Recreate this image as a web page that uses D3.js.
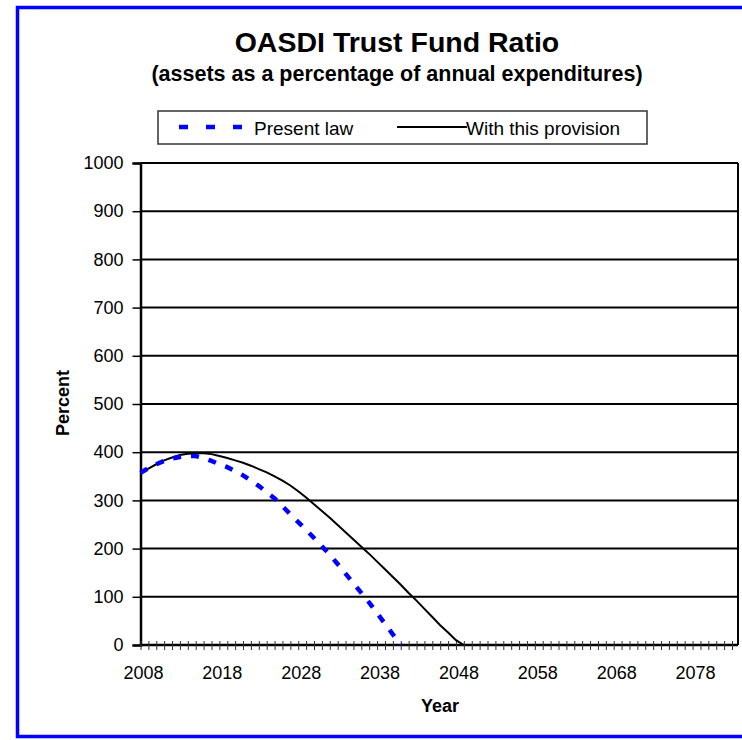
<!DOCTYPE html>
<html><head><meta charset="utf-8">
<script src="https://cdn.jsdelivr.net/npm/d3@7"></script>
<style>html,body{margin:0;padding:0;background:#fff;}svg{display:block;}</style>
</head><body>
<script>
const years = d3.range(2008, 2084);
const presentLaw = [357,367,375,382,387,390,392,392,388,382,375,369,361,352,341,330,317,304,288,271,255,239,222,205,187,168,148,128,108,88,66,44,22,0];
const withProvision = [357,366,375,383,389,394,397,398,398,396,392,388,383,378,372,365,358,350,341,331,319,306,292,278,264,249,234,219,204,189,173,157,141,125,108,92,75,58,41,26,10,0];
const yTicks = [0,100,200,300,400,500,600,700,800,900,1000];
const xLabelYears = [2008,2018,2028,2038,2048,2058,2068,2078];
const title = "OASDI Trust Fund Ratio";
const subtitle = "(assets as a percentage of annual expenditures)";
const seriesNames = ["Present law","With this provision"];

const W = 742, H = 740;
const FONT = "'Liberation Sans', Arial, sans-serif";
const svg = d3.select("body").append("svg").attr("width", W).attr("height", H)
  .style("font-family", FONT);

// outer blue frame
svg.append("rect").attr("x", 17.5).attr("y", 7.5).attr("width", 760).attr("height", 729)
  .attr("fill", "none").attr("stroke", "#0000ff").attr("stroke-width", 3.5);

const L = 140.5, R = 738, T = 163, B = 645;
const x = d3.scaleLinear().domain([2008, 2083]).range([L, 732]);
const y = d3.scaleLinear().domain([0, 1000]).range([B, T]);

// titles
svg.append("text").attr("x", 397).attr("y", 51.5).attr("text-anchor", "middle")
  .attr("font-size", 28.5).attr("font-weight", "bold").text(title);
svg.append("text").attr("x", 397).attr("y", 81).attr("text-anchor", "middle")
  .attr("font-size", 21.5).attr("font-weight", "bold").text(subtitle);

// gridlines
svg.append("g").selectAll("line").data(yTicks.filter(d => d > 0)).join("line")
  .attr("x1", L).attr("x2", R).attr("y1", d => y(d)).attr("y2", d => y(d))
  .attr("stroke", "#000").attr("stroke-width", 2);

// y axis
const yAxis = svg.append("g").attr("transform", `translate(${L},0)`)
  .call(d3.axisLeft(y).tickValues(yTicks).tickSize(8).tickPadding(9).tickFormat(d3.format("d")));
yAxis.select(".domain").attr("stroke-width", 2.5);
yAxis.selectAll(".tick line").attr("stroke-width", 1.5);
yAxis.selectAll("text").attr("font-size", 18).attr("font-family", FONT).attr("fill", "#000");

// right border
svg.append("line").attr("x1", R).attr("x2", R).attr("y1", T).attr("y2", B).attr("stroke", "#000").attr("stroke-width", 2);

// x axis
const xAxis = svg.append("g").attr("transform", `translate(0,${B})`)
  .call(d3.axisBottom(x).tickValues(years).tickSize(5).tickSizeOuter(0).tickFormat(""));
xAxis.select(".domain").attr("d", `M${L},0H${R}`).attr("stroke-width", 2.5);
xAxis.selectAll(".tick line").attr("y1", -4).attr("stroke", "#333").attr("stroke-width", 1);
svg.append("g").selectAll("text").data(xLabelYears).join("text")
  .attr("x", d => x(d) + 3).attr("y", 679).attr("text-anchor", "middle")
  .attr("font-size", 18).text(d => d);

// axis titles
svg.append("text").attr("x", 440).attr("y", 712).attr("text-anchor", "middle")
  .attr("font-size", 18).attr("font-weight", "bold").text("Year");
svg.append("text").attr("transform", "translate(69,403) rotate(-90)").attr("text-anchor", "middle")
  .attr("font-size", 18).attr("font-weight", "bold").text("Percent");

// lines
const line = d3.line().x((d, i) => x(years[i])).y(d => y(d));
svg.append("path").datum(withProvision).attr("d", line)
  .attr("fill", "none").attr("stroke", "#000").attr("stroke-width", 2);
svg.append("path").datum(presentLaw).attr("d", line)
  .attr("fill", "none").attr("stroke", "#0000ff").attr("stroke-width", 4.5)
  .attr("stroke-dasharray", "8,10");

// legend
const lg = svg.append("g");
lg.append("rect").attr("x", 158).attr("y", 111).attr("width", 489).attr("height", 33)
  .attr("fill", "#fff").attr("stroke", "#333").attr("stroke-width", 1.5);
lg.append("line").attr("x1", 179).attr("x2", 245).attr("y1", 127).attr("y2", 127)
  .attr("stroke", "#0000ff").attr("stroke-width", 4.5).attr("stroke-dasharray", "9,18");
lg.append("text").attr("x", 254).attr("y", 134.5).attr("font-size", 19).text(seriesNames[0]);
lg.append("line").attr("x1", 397).attr("x2", 467).attr("y1", 127).attr("y2", 127)
  .attr("stroke", "#000").attr("stroke-width", 2);
lg.append("text").attr("x", 466).attr("y", 134.5).attr("font-size", 19).text(seriesNames[1]);
</script>
</body></html>
